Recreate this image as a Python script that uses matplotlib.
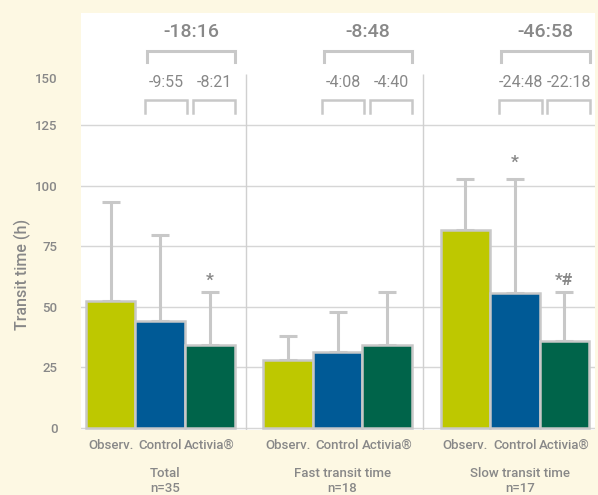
import numpy as np
import matplotlib.pyplot as plt
import matplotlib.transforms as mtransforms

# data (hours)
groups = ["Total\nn=35", "Fast transit time\nn=18", "Slow transit time\nn=17"]
arms = ["Observ.", "Control", "Activia®"]
means = np.array([[52.4, 44.2, 34.1],
                  [27.9, 31.3, 34.1],
                  [81.7, 55.5, 35.8]])
sds = np.array([[40.9, 35.4, 22.1],
                [10.1, 16.6, 22.1],
                [20.9, 47.4, 20.4]])
marks = [["", "", "*"], ["", "", ""], ["", "*", "*#"]]
diff_total = ["-18:16", "-8:48", "-46:58"]
diff_pairs = [["-9:55", "-8:21"], ["-4:08", "-4:40"], ["-24:48", "-22:18"]]

colors = ["#bec800", "#005a96", "#00644a"]
edge = "#c8c8c8"
txt = "#888888"
cream = "#fdf8e3"

plt.rcParams['font.family'] = ['Roboto', 'DejaVu Sans']
plt.rcParams['font.weight'] = 'medium'

fig = plt.figure(figsize=(5.98, 4.95), dpi=100, facecolor=cream)
ax = fig.add_axes([81/598, 65.5/495, 514/598, 416.5/495])
ax.set_facecolor("white")
for s in ax.spines.values():
    s.set_visible(False)

step = 3.58
centers = np.arange(len(groups)) * step
mark_gap = [[0, 0, 1.5], [0, 0, 0], [0, 3.5, 1.5]]
xpos = []
for g, c in enumerate(centers):
    x = c + np.array([-1, 0, 1])
    xpos.extend(x)
    for i in range(3):
        ax.bar(x[i], means[g, i], width=1.0, color=colors[i], edgecolor=edge,
               linewidth=1.8, zorder=3)
        ax.errorbar(x[i], means[g, i], yerr=[[0], [sds[g, i]]], fmt="none",
                    ecolor=edge, elinewidth=2.2, capsize=6.5, capthick=2.2, zorder=2)
        if marks[g][i]:
            ax.text(x[i], means[g, i] + sds[g, i] + mark_gap[g][i], marks[g][i],
                    ha="center", va="bottom", fontsize=12.5, color=txt, fontweight="bold")

    # comparison brackets
    bl, br = c - 0.27, c + 1.51
    ax.plot([bl, bl, br, br], [151.1, 155.8, 155.8, 151.1], color=edge, lw=2.2,
            clip_on=False, solid_joinstyle="miter")
    ax.text((bl + br) / 2, 163.6, diff_total[g], ha="center", va="center",
            fontsize=14, color=txt, fontweight="medium")
    for (l, r), lab in zip([(c - 0.31, c + 0.54), (c + 0.66, c + 1.51)], diff_pairs[g]):
        ax.plot([l, l, r, r], [130.0, 135.4, 135.4, 130.0], color=edge, lw=1.8,
                solid_joinstyle="miter")
        ax.text((l + r) / 2, 142.5, lab, ha="center", va="center",
                fontsize=11.5, color=txt, fontweight="normal")

# separators between groups
for c in centers[:-1]:
    ax.vlines(c + step / 2 - 0.06, -1, 146.3, color="#d0d0d0", lw=1.0, zorder=1)

ax.set_xlim(-1.6, centers[-1] + 1.62)
ax.set_ylim(-0.8, 171.4)
ax.set_yticks([0, 25, 50, 75, 100, 125])
ax.yaxis.grid(True, color="#d6d6d6", lw=1.0, zorder=0)
ax.set_axisbelow(True)
ax.tick_params(axis="y", length=0, pad=17, labelsize=9.5, labelcolor=txt)
ax.annotate("150", xy=(0, 144), xycoords=("axes fraction", "data"),
            xytext=(-17, 0), textcoords="offset points",
            ha="right", va="center", fontsize=9.5, color=txt)
ax.set_xticks(xpos)
ax.set_xticklabels(arms * 3)
ax.tick_params(axis="x", length=0, pad=7, labelsize=9.5, labelcolor=txt)
fig.text(22/598, 221/495, "Transit time (h)", rotation=90, ha="center", va="center",
         fontsize=11.5, color=txt)

trans = mtransforms.blended_transform_factory(ax.transData, ax.transAxes)
for c, g in zip(centers, groups):
    ax.text(c + 0.1, -0.089, g, transform=trans, ha="center", va="top",
            fontsize=9.5, color=txt, linespacing=1.2)

fig.savefig("out.png", dpi=100, facecolor=cream)
